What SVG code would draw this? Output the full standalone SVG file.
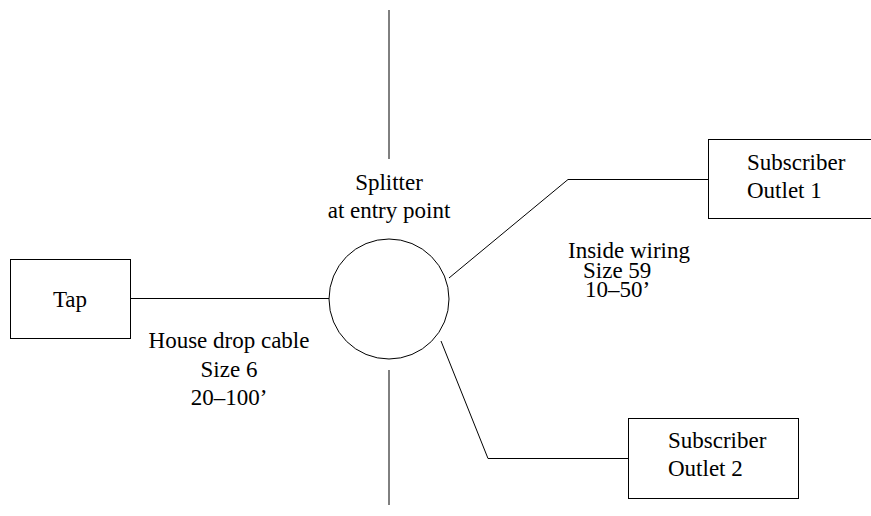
<svg xmlns="http://www.w3.org/2000/svg" width="871" height="516" viewBox="0 0 871 516">
<style>
.s{fill:none;stroke:#000;stroke-width:1}
.b{fill:#fff;stroke:#000;stroke-width:1}
text{font-family:"Liberation Serif","Times New Roman",serif;font-size:23px;fill:#000}
.c{text-anchor:middle}
</style>
<rect width="871" height="516" fill="#fff"/>
<g id="connectors">
<line class="s" x1="389" y1="10" x2="389" y2="159"/>
<line class="s" x1="389" y1="370" x2="389" y2="505"/>
<line class="s" x1="130" y1="298.5" x2="329" y2="298.5"/>
<polyline class="s" points="449,278 568,179.5 708,179.5"/>
<polyline class="s" points="441,341 488,458.5 628,458.5"/>
</g>
<g id="tap">
<rect class="b" x="10.5" y="259.5" width="120" height="79"/>
<text class="c" x="70" y="307">Tap</text>
</g>
<g id="splitter">
<circle class="b" cx="389" cy="299" r="60"/>
<text class="c" x="389" y="190">Splitter</text>
<text class="c" x="389" y="218">at entry point</text>
</g>
<g id="outlet1">
<rect class="b" x="708.5" y="139.5" width="170" height="79"/>
<text x="747" y="170">Subscriber</text>
<text x="747" y="198">Outlet 1</text>
</g>
<g id="outlet2">
<rect class="b" x="628.5" y="418.5" width="170" height="80"/>
<text x="668" y="448">Subscriber</text>
<text x="668" y="476">Outlet 2</text>
</g>
<g id="labels">
<text class="c" x="229" y="348">House drop cable</text>
<text class="c" x="229" y="377">Size 6</text>
<text class="c" x="229" y="405">20–100’</text>
<text x="568" y="258">Inside wiring</text>
<text x="583" y="278">Size 59</text>
<text x="585" y="297">10–50’</text>
</g>
</svg>
